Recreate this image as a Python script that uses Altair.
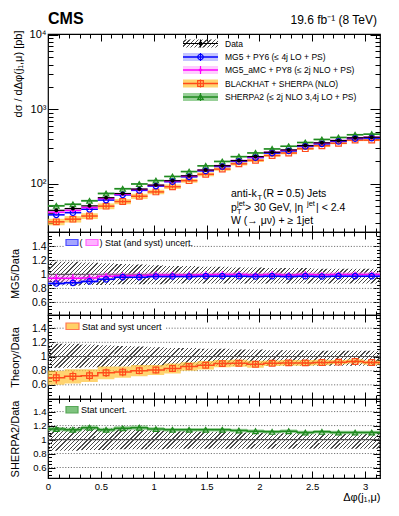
import math
import altair as alt
import pandas as pd

FONT = "Liberation Sans"
PI = math.pi
NBIN = 20
edges = [i * PI / NBIN for i in range(NBIN + 1)]
centers = [(edges[i] + edges[i + 1]) / 2 for i in range(NBIN)]

# ---------------- values ----------------
data_xsec = [44, 46.5, 50.5, 65, 74, 85, 96, 110, 128, 153,
             175, 205, 232, 265, 285, 326, 355, 381, 415, 422]
data_stat = [0.04, 0.04, 0.04, 0.03, 0.03, 0.03, 0.03, 0.03, 0.02, 0.02,
             0.02, 0.02, 0.02, 0.02, 0.02, 0.02, 0.02, 0.02, 0.02, 0.02]
data_unc_up = [0.18, 0.18, 0.17, 0.16, 0.15, 0.14, 0.13, 0.12, 0.12, 0.11,
               0.11, 0.10, 0.10, 0.09, 0.09, 0.09, 0.08, 0.08, 0.08, 0.08]
data_unc_dn = [0.16, 0.16, 0.15, 0.15, 0.14, 0.14, 0.14, 0.13, 0.13, 0.13,
               0.13, 0.13, 0.13, 0.13, 0.13, 0.13, 0.13, 0.13, 0.13, 0.13]

mg5_ratio = [0.87, 0.88, 0.90, 0.93, 0.96, 0.96, 0.97, 0.97, 0.97, 0.975,
             0.975, 0.975, 0.97, 0.975, 0.97, 0.975, 0.97, 0.975, 0.975, 0.975]
mg5_band = [0.02, 0.02, 0.02, 0.015, 0.015, 0.015, 0.015, 0.015, 0.015, 0.015,
            0.015, 0.015, 0.015, 0.015, 0.015, 0.015, 0.015, 0.015, 0.015, 0.015]

amc_ratio = [0.945, 0.945, 0.95, 0.975, 0.98, 0.985, 0.99, 0.99, 0.99, 0.995,
             1.0, 1.0, 0.99, 1.0, 0.99, 1.0, 0.995, 1.0, 1.0, 1.0]
amc_band = [0.05, 0.05, 0.05, 0.04, 0.04, 0.04, 0.04, 0.04, 0.035, 0.035,
            0.035, 0.035, 0.035, 0.035, 0.035, 0.035, 0.035, 0.035, 0.035, 0.035]
amc_err = [0.06, 0.06, 0.05, 0.05, 0.05, 0.05, 0.05, 0.05, 0.05, 0.05,
           0.05, 0.05, 0.04, 0.05, 0.04, 0.05, 0.04, 0.04, 0.04, 0.04]

bh_ratio = [0.70, 0.72, 0.73, 0.77, 0.78, 0.80, 0.81, 0.83, 0.86, 0.877,
            0.90, 0.905, 0.89, 0.905, 0.91, 0.91, 0.915, 0.92, 0.93, 0.915]
bh_band = [0.10, 0.10, 0.09, 0.09, 0.08, 0.08, 0.07, 0.07, 0.06, 0.06,
           0.05, 0.05, 0.05, 0.04, 0.04, 0.04, 0.04, 0.03, 0.03, 0.03]
bh_err = [0.08, 0.07, 0.07, 0.06, 0.06, 0.05, 0.05, 0.05, 0.04, 0.04,
          0.04, 0.03, 0.03, 0.03, 0.03, 0.02, 0.02, 0.02, 0.02, 0.02]

sh_ratio = [1.15, 1.14, 1.17, 1.14, 1.16, 1.17, 1.15, 1.14, 1.14, 1.14,
            1.14, 1.13, 1.12, 1.11, 1.12, 1.10, 1.11, 1.10, 1.10, 1.10]
sh_band = [0.03, 0.03, 0.03, 0.03, 0.03, 0.03, 0.025, 0.025, 0.025, 0.025,
           0.025, 0.025, 0.025, 0.025, 0.025, 0.025, 0.025, 0.025, 0.025, 0.025]

legend_labels = ["Data", "MG5 + PY6 (\u2264 4j LO + PS)", "MG5_aMC + PY8 (\u2264 2j NLO + PS)",
                 "BLACKHAT + SHERPA (NLO)", "SHERPA2 (\u2264 2j NLO 3,4j LO + PS)"]
x_major = [0, 0.5, 1, 1.5, 2, 2.5, 3]
x_minor = [round(0.1 * i, 1) for i in range(32) if i % 5 != 0]
logy_major = [100, 1000, 10000]
logy_minor = [m * d for d in (10, 100, 1000) for m in range(2, 10) if m * d > 22]
ry_major = [0.6, 0.8, 1.0, 1.2, 1.4]
ry_minor = [round(0.45 + 0.05 * i, 2) for i in range(24) if round((0.45 + 0.05 * i) * 100) % 20 != 0]
grid_dotted = [0.6, 0.8, 1.2, 1.4]

# ---------------- styles ----------------
W = 332
H_MAIN, H_R1, H_R2, H_R3 = 198, 83, 84, 79
xs = alt.Scale(domain=[0, PI], nice=False, zero=False)
HATCH_P = 4.2

STY = {
    "mg5": dict(line="#0000ff", fill="#7f7fff", fop=0.45, shape="circle", filled=False, size=30),
    "amc": dict(line="#ff00ff", fill="#ff80ff", fop=0.4, shape="diamond", filled=True, size=18),
    "bh": dict(line="#ff4a1a", fill="#ffc233", fop=0.7, shape="square", filled=False, size=32),
    "sh": dict(line="#1f8a1f", fill="#55b055", fop=0.6, shape="triangle-up", filled=False, size=30),
}


def step_frame(**cols):
    d = {"x": edges[:-1] + [PI]}
    for k, v in cols.items():
        d[k] = list(v) + [v[-1]]
    return pd.DataFrame(d)


def bin_frame(**cols):
    d = {"lo": edges[:-1], "hi": edges[1:], "c": centers}
    for k, v in cols.items():
        d[k] = list(v)
    return pd.DataFrame(d)


def hatch_gradient(bx, by, w, h, color="#4a4a4a", duty=0.3):
    """'////' hatching as a striped linear gradient in the item's bounding box,
    phase-locked so neighbouring pieces continue the same stripes."""
    n = int(math.ceil((w + h) / HATCH_P)) + 2
    L = n * HATCH_P
    k = L / (w * w + h * h)
    s = ((bx + by) % HATCH_P) / w
    clear = "rgba(255,255,255,0)"
    stops = []
    for j in range(n):
        a, b, c = j / n, (j + duty) / n, (j + 1) / n
        stops += [{"offset": a, "color": color}, {"offset": b, "color": color},
                  {"offset": b, "color": clear}, {"offset": c, "color": clear}]
    return {"gradient": "linear", "x1": -s, "y1": 0, "x2": -s + k * w, "y2": k * h, "stops": stops}


def axes_layers(ys, y_any, ymaj, ymin, ymaj_len, ymin_len, lab_size, ytitle, title_y,
                title_align, yfmt=None, ylabel_expr=None, xlabels=False, xtitle=None):
    df = pd.DataFrame({"x": [1.0], "y": [y_any]})
    base = dict(domain=False, grid=False, tickColor="black", tickWidth=1, minExtent=0, labelFlush=False)
    layers = []
    specs = [("bottom", x_major, 7, "left", ymaj, ymaj_len),
             ("bottom", x_minor, 4, "left", ymin, ymin_len),
             ("top", x_major, 7, "right", ymaj, ymaj_len),
             ("top", x_minor, 4, "right", ymin, ymin_len)]
    for i, (xo, xv, xl, yo, yv, yl) in enumerate(specs):
        xkw = dict(base, orient=xo, values=xv, tickSize=xl, offset=-xl)
        ykw = dict(base, orient=yo, values=yv, tickSize=yl, offset=-yl)
        if i == 0 and xlabels:
            xkw.update(labels=True, labelFont=FONT, labelFontSize=lab_size, labelColor="black",
                       labelPadding=3, format=".1~f", title=xtitle, titleFont=FONT, titleFontSize=11,
                       titleFontWeight="normal", titleColor="black", titleAnchor="end", titlePadding=1)
        else:
            xkw.update(labels=False, title=None)
        if i == 0:
            ykw.update(labels=True, labelFont=FONT, labelFontSize=lab_size, labelColor="black",
                       labelPadding=2, title=ytitle, titleFont=FONT, titleFontSize=11,
                       titleFontWeight="normal", titleColor="black", titleAngle=-90, titleX=-40,
                       titleY=title_y, titleAlign=title_align, titleBaseline="middle")
            if yfmt:
                ykw["format"] = yfmt
            if ylabel_expr:
                ykw["labelExpr"] = ylabel_expr
        else:
            ykw.update(labels=False, title=None)
        layers.append(alt.Chart(df).mark_point(opacity=0).encode(
            x=alt.X("x:Q", scale=xs, axis=alt.Axis(**xkw)),
            y=alt.Y("y:Q", scale=ys, axis=alt.Axis(**ykw))))
    return layers


def txt(s, x, y, size, color="black", weight="normal", align="left", baseline="alphabetic"):
    return alt.Chart(pd.DataFrame({"t": [s]})).mark_text(
        font=FONT, fontSize=size, color=color, fontWeight=weight, align=align, baseline=baseline
    ).encode(x=alt.value(x), y=alt.value(y), text="t:N")


def box(x0, x1, y0, y1, fill, stroke=None, opacity=1.0, sw=1):
    kw = dict(fill=fill, opacity=opacity, strokeWidth=sw)
    if stroke:
        kw["stroke"] = stroke
    return alt.Chart(pd.DataFrame({"a": [0]})).mark_rect(**kw).encode(
        x=alt.value(x0), x2=alt.value(x1), y=alt.value(y0), y2=alt.value(y1))


def hline(x0, x1, y, color, sw=1.5):
    return alt.Chart(pd.DataFrame({"a": [0]})).mark_rule(color=color, strokeWidth=sw).encode(
        x=alt.value(x0), x2=alt.value(x1), y=alt.value(y))


def vline(x, y0, y1, color, sw=1.2):
    return alt.Chart(pd.DataFrame({"a": [0]})).mark_rule(color=color, strokeWidth=sw).encode(
        x=alt.value(x), y=alt.value(y0), y2=alt.value(y1))


def dot(x, y, st, color=None):
    return alt.Chart(pd.DataFrame({"a": [0]})).mark_point(
        shape=st["shape"], filled=st["filled"], size=st["size"], color=color or st["line"],
        strokeWidth=1.2, opacity=1).encode(x=alt.value(x), y=alt.value(y))


# ---------------- main panel ----------------
ys_main = alt.Scale(type="log", domain=[22.5, 10300], nice=False)
main_series = [("bh", bh_ratio, bh_band, bh_err), ("sh", sh_ratio, sh_band, sh_band),
               ("mg5", mg5_ratio, mg5_band, mg5_band), ("amc", amc_ratio, amc_band, amc_err)]

main_layers = []
frames = {}
for key, rat, band, err in main_series:
    v = [d * r for d, r in zip(data_xsec, rat)]
    frames[key] = bin_frame(v=v,
                            blo=[a * (1 - b) for a, b in zip(v, band)],
                            bhi=[a * (1 + b) for a, b in zip(v, band)],
                            elo=[a * (1 - e) for a, e in zip(v, err)],
                            ehi=[a * (1 + e) for a, e in zip(v, err)])
for key, *_ in main_series:
    st = STY[key]
    main_layers.append(alt.Chart(frames[key]).mark_rect(fill=st["fill"], opacity=st["fop"], clip=True).encode(
        x=alt.X("lo:Q", scale=xs, axis=None), x2="hi:Q",
        y=alt.Y("blo:Q", scale=ys_main, axis=None), y2="bhi:Q"))
for key, *_ in main_series:
    st = STY[key]
    df = frames[key]
    main_layers.append(alt.Chart(df).mark_rule(color=st["line"], strokeWidth=1.5, clip=True).encode(
        x=alt.X("lo:Q", scale=xs, axis=None), x2="hi:Q", y=alt.Y("v:Q", scale=ys_main, axis=None)))
    main_layers.append(alt.Chart(df).mark_rule(color=st["line"], strokeWidth=1.2, clip=True).encode(
        x=alt.X("c:Q", scale=xs, axis=None), y=alt.Y("elo:Q", scale=ys_main, axis=None), y2="ehi:Q"))
    main_layers.append(alt.Chart(df).mark_point(shape=st["shape"], filled=st["filled"], size=st["size"],
                                                color=st["line"], strokeWidth=1.2, opacity=1, clip=True).encode(
        x=alt.X("c:Q", scale=xs, axis=None), y=alt.Y("v:Q", scale=ys_main, axis=None)))

df_data = bin_frame(v=data_xsec,
                    elo=[a * (1 - s) for a, s in zip(data_xsec, data_stat)],
                    ehi=[a * (1 + s) for a, s in zip(data_xsec, data_stat)])
main_layers += [
    alt.Chart(df_data).mark_rule(color="black", strokeWidth=1.2, clip=True).encode(
        x=alt.X("lo:Q", scale=xs, axis=None), x2="hi:Q", y=alt.Y("v:Q", scale=ys_main, axis=None)),
    alt.Chart(df_data).mark_rule(color="black", strokeWidth=1.2, clip=True).encode(
        x=alt.X("c:Q", scale=xs, axis=None), y=alt.Y("elo:Q", scale=ys_main, axis=None), y2="ehi:Q"),
    alt.Chart(df_data).mark_point(shape="circle", filled=True, size=16, color="black", opacity=1, clip=True).encode(
        x=alt.X("c:Q", scale=xs, axis=None), y=alt.Y("v:Q", scale=ys_main, axis=None)),
]

# legend of main panel
LX0, LX1, LXM, LXT = 135, 170, 152.5, 177
rows = [9.5, 23, 36, 49.5, 63]
main_layers += [
    alt.Chart(pd.DataFrame({"a": [0]})).mark_rect(
        fill=hatch_gradient(LX0, rows[0] - 4, LX1 - LX0, 8)).encode(
        x=alt.value(LX0), x2=alt.value(LX1), y=alt.value(rows[0] - 4), y2=alt.value(rows[0] + 4)),
    hline(LX0, LX1, rows[0], "black", 1.2), vline(LXM, rows[0] - 4, rows[0] + 4, "black"),
    alt.Chart(pd.DataFrame({"a": [0]})).mark_point(shape="circle", filled=True, size=16, color="black",
                                                   opacity=1).encode(x=alt.value(LXM), y=alt.value(rows[0])),
    txt(legend_labels[0], LXT, rows[0] + 3, 8.5),
]
for row, key, lab in zip(rows[1:], ["mg5", "amc", "bh", "sh"], legend_labels[1:]):
    st = STY[key]
    main_layers += [box(LX0, LX1, row - 4, row + 4, st["fill"], opacity=st["fop"]),
                    hline(LX0, LX1, row, st["line"]), vline(LXM, row - 4, row + 4, st["line"]),
                    dot(LXM, row, st), txt(lab, LXT, row + 3, 8.5)]

# CMS labels and annotations
main_layers += [
    txt("CMS", 0, -10, 16, weight="bold"),
    txt("19.6 fb\u207b\u00b9 (8 TeV)", 329, -10, 12, align="right"),
    txt("anti-k", 183, 163, 10.5), txt("T", 209.5, 166, 7.5), txt(" (R = 0.5) Jets", 215, 163, 10.5),
    txt("p", 183, 176.5, 10.5), txt("jet", 189, 171.5, 7.5), txt("T", 189, 179.5, 7.5),
    txt(" > 30 GeV, |\u03b7", 197, 176.5, 10.5), txt("jet", 259, 171.5, 7.5), txt("| < 2.4", 268, 176.5, 10.5),
    txt("W (\u2192 \u03bc\u03bd) + \u2265 1jet", 183, 190, 10.5),
]
main_layers += axes_layers(ys_main, 100, logy_major, logy_minor, 10, 5, 11,
                           "d\u03c3 / d\u0394\u03c6(j\u2081,\u03bc)  [pb]", -4, "right",
                           ylabel_expr="datum.value == 100 ? '10\u00b2' : datum.value == 1000 ? '10\u00b3' : '10\u2074'")
main = alt.layer(*main_layers).resolve_axis(x="independent", y="independent").properties(width=W, height=H_MAIN)


# ---------------- ratio panels ----------------
def ratio_base(ys, dom, H, group=2):
    pxu = H / (dom[1] - dom[0])
    layers = [alt.Chart(pd.DataFrame({"g": grid_dotted})).mark_rule(
        color="#777", strokeDash=[1.2, 1.6], strokeWidth=1).encode(y=alt.Y("g:Q", scale=ys, axis=None))]
    for i0 in range(0, NBIN, group):
        i1 = i0 + group
        up = [1 + u for u in data_unc_up[i0:i1]]
        dn = [1 - d for d in data_unc_dn[i0:i1]]
        df = pd.DataFrame({"x": edges[i0:i1 + 1], "up": up + [up[-1]], "dn": dn + [dn[-1]]})
        bx = W * i0 / NBIN
        w = W * group / NBIN
        by = (dom[1] - max(up)) * pxu
        h = (max(up) - min(dn)) * pxu
        layers.append(alt.Chart(df).mark_area(interpolate="step-after", fill=hatch_gradient(bx, by, w, h),
                                              clip=True).encode(
            x=alt.X("x:Q", scale=xs, axis=None), y=alt.Y("up:Q", scale=ys, axis=None), y2="dn:Q"))
    layers.append(alt.Chart(pd.DataFrame({"one": [1.0]})).mark_rule(color="#555", strokeWidth=1.2).encode(
        y=alt.Y("one:Q", scale=ys, axis=None)))
    return layers


def ratio_series(ys, key, rat, band, err=None, show_err=True):
    st = STY[key]
    sf = step_frame(v=rat, lo=[r - b for r, b in zip(rat, band)], hi=[r + b for r, b in zip(rat, band)])
    out = [
        alt.Chart(sf).mark_area(interpolate="step-after", color=st["fill"], opacity=st["fop"], clip=True).encode(
            x=alt.X("x:Q", scale=xs, axis=None), y=alt.Y("lo:Q", scale=ys, axis=None), y2="hi:Q"),
    ]
    line = alt.Chart(sf).mark_line(interpolate="step-after", color=st["line"], strokeWidth=1.5, clip=True).encode(
        x=alt.X("x:Q", scale=xs, axis=None), y=alt.Y("v:Q", scale=ys, axis=None))
    e = err or band
    bf = bin_frame(v=rat, elo=[r - x for r, x in zip(rat, e)], ehi=[r + x for r, x in zip(rat, e)])
    pts = [alt.Chart(bf).mark_rule(color=st["line"], strokeWidth=1.2, clip=True).encode(
        x=alt.X("c:Q", scale=xs, axis=None), y=alt.Y("elo:Q", scale=ys, axis=None), y2="ehi:Q")] if show_err else []
    pts.append(alt.Chart(bf).mark_point(shape=st["shape"], filled=st["filled"], size=st["size"], color=st["line"],
                                        strokeWidth=1.2, opacity=1, clip=True).encode(
        x=alt.X("c:Q", scale=xs, axis=None), y=alt.Y("v:Q", scale=ys, axis=None)))
    return out, [line] + pts


# panel 1: MG5 / Data
dom1 = [0.42, 1.606]
ys1 = alt.Scale(domain=dom1, nice=False, zero=False)
b_amc, l_amc = ratio_series(ys1, "amc", amc_ratio, amc_band, amc_err)
b_mg5, l_mg5 = ratio_series(ys1, "mg5", mg5_ratio, mg5_band, show_err=False)
p1_layers = ratio_base(ys1, dom1, H_R1) + b_amc + b_mg5 + l_amc + l_mg5 + [
    box(16, 133, 4, 17, "white"),
    box(18, 30, 7.5, 13.5, STY["mg5"]["fill"], stroke=STY["mg5"]["line"], opacity=0.7, sw=1.2),
    txt("(", 31.5, 14, 9),
    box(38, 50, 7.5, 13.5, STY["amc"]["fill"], stroke=STY["amc"]["line"], opacity=0.6, sw=1.2),
    txt(") Stat (and syst) uncert.", 51.5, 14, 9),
]
p1_layers += axes_layers(ys1, 1.0, ry_major, ry_minor, 7, 3.5, 10.5, "MG5/Data", H_R1 / 2, "center", yfmt=".1~f")
p1 = alt.layer(*p1_layers).resolve_axis(x="independent", y="independent").properties(width=W, height=H_R1)

# panel 2: Theory / Data (BLACKHAT)
dom2 = [0.40, 1.586]
ys2 = alt.Scale(domain=dom2, nice=False, zero=False)
b_bh, l_bh = ratio_series(ys2, "bh", bh_ratio, bh_band, bh_err)
p2_layers = ratio_base(ys2, dom2, H_R2) + b_bh + l_bh + [
    box(16, 118, 4, 18, "white"),
    box(18, 31, 8, 14.5, STY["bh"]["fill"], stroke=STY["bh"]["line"], opacity=0.75, sw=1.2),
    txt("Stat and syst uncert", 34, 14.5, 9),
]
p2_layers += axes_layers(ys2, 1.0, ry_major, ry_minor, 7, 3.5, 10.5, "Theory/Data", H_R2 / 2, "center", yfmt=".1~f")
p2 = alt.layer(*p2_layers).resolve_axis(x="independent", y="independent").properties(width=W, height=H_R2)

# panel 3: SHERPA2 / Data
dom3 = [0.45, 1.58]
ys3 = alt.Scale(domain=dom3, nice=False, zero=False)
b_sh, l_sh = ratio_series(ys3, "sh", sh_ratio, sh_band, show_err=False)
p3_layers = ratio_base(ys3, dom3, H_R3) + b_sh + l_sh + [
    box(16, 81, 3, 17, "white"),
    box(18, 30, 7.5, 14, STY["sh"]["fill"], stroke=STY["sh"]["line"], opacity=0.75, sw=1.2),
    txt("Stat uncert.", 33, 14, 9),
]
p3_layers += axes_layers(ys3, 1.0, ry_major, ry_minor, 7, 3.5, 9.5, "SHERPA2/Data", H_R3 / 2, "center",
                         yfmt=".1~f", xlabels=True, xtitle="\u0394\u03c6(j\u2081,\u03bc)")
p3 = alt.layer(*p3_layers).resolve_axis(x="independent", y="independent").properties(width=W, height=H_R3)

chart = alt.vconcat(main, p1, p2, p3, spacing=0, bounds="flush").properties(
    padding={"left": 0, "top": 2, "right": 2, "bottom": 2}, background="white"
).configure_view(stroke="black", strokeWidth=1.2)

chart.save("out.html", embed_options={"renderer": "svg", "actions": False})
